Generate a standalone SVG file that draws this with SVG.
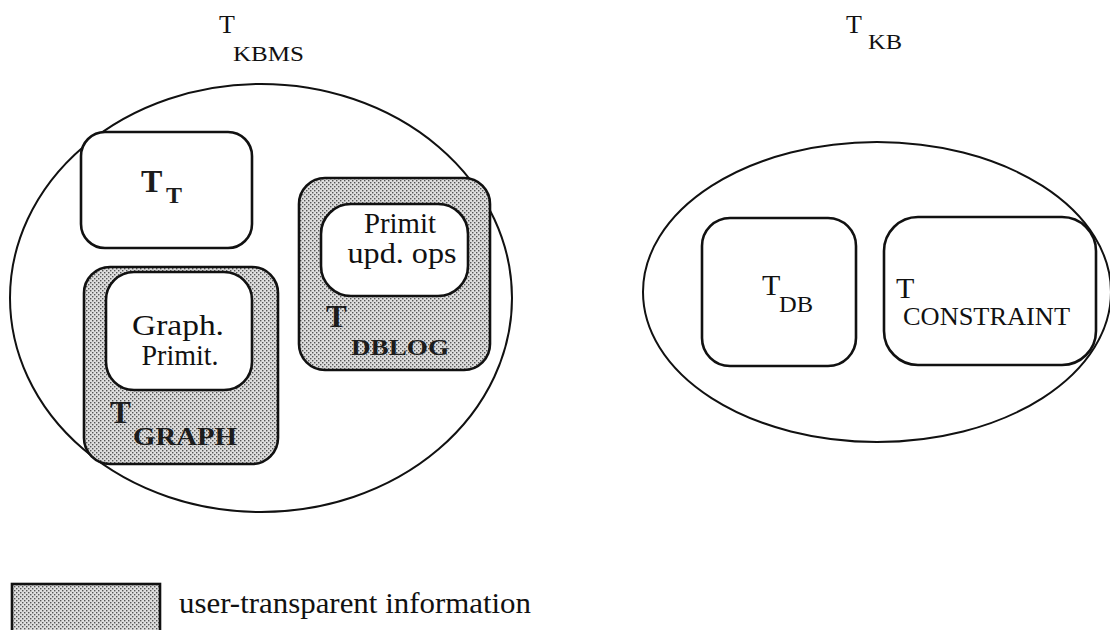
<svg xmlns="http://www.w3.org/2000/svg" width="1110" height="630" viewBox="0 0 1110 630">
  <style>
    .txt { font-family: "Liberation Serif", "Times New Roman", serif; fill: #111; }
    .bold { font-weight: bold; fill: #1c1c1c; }
    .region { fill: none; stroke: #111; stroke-width: 2; }
    .box { fill: #fff; stroke: #111; stroke-width: 2.6; }
    .shaded { fill: url(#dots); stroke: #111; stroke-width: 2.6; }
  </style>
  <defs>
    <!-- dithered gray fill for user-transparent parts -->
    <pattern id="dots" width="4" height="4" patternUnits="userSpaceOnUse">
      <rect width="4" height="4" fill="#dedede"/>
      <rect x="0" y="0" width="1.4" height="1.4" fill="#555"/>
      <rect x="2" y="2" width="1.4" height="1.4" fill="#555"/>
    </pattern>
  </defs>

  <rect width="1110" height="630" fill="#fff"/>

  <!-- KBMS theory -->
  <g id="kbms">
    <text class="txt" x="219" y="33" font-size="26">T</text>
    <text class="txt" x="233" y="61" font-size="21" textLength="71" lengthAdjust="spacingAndGlyphs">KBMS</text>
    <ellipse class="region" cx="261" cy="298" rx="251" ry="214"/>
  </g>

  <g id="t-t">
    <rect class="box" x="81" y="132" width="171" height="116" rx="24"/>
    <text class="txt bold" x="141" y="192" font-size="32">T</text>
    <text class="txt bold" x="166" y="203" font-size="24">T</text>
  </g>

  <g id="t-graph">
    <rect class="shaded" x="84" y="267" width="194" height="197" rx="26"/>
    <rect class="box" x="106" y="272" width="146" height="118" rx="28"/>
    <text class="txt" x="178" y="335" font-size="30" text-anchor="middle" textLength="92" lengthAdjust="spacingAndGlyphs">Graph.</text>
    <text class="txt" x="180" y="365" font-size="30" text-anchor="middle" textLength="77" lengthAdjust="spacingAndGlyphs">Primit.</text>
    <text class="txt bold" x="110" y="423" font-size="31">T</text>
    <text class="txt bold" x="133" y="445" font-size="25" textLength="104" lengthAdjust="spacingAndGlyphs">GRAPH</text>
  </g>

  <g id="t-dblog">
    <rect class="shaded" x="299" y="178" width="191" height="192" rx="26"/>
    <rect class="box" x="321" y="204" width="147" height="92" rx="30"/>
    <text class="txt" x="400" y="233" font-size="30" text-anchor="middle" textLength="72" lengthAdjust="spacingAndGlyphs">Primit</text>
    <text class="txt" x="402" y="263" font-size="30" text-anchor="middle" textLength="109" lengthAdjust="spacingAndGlyphs">upd. ops</text>
    <text class="txt bold" x="326" y="327" font-size="31">T</text>
    <text class="txt bold" x="351" y="355" font-size="24" textLength="98" lengthAdjust="spacingAndGlyphs">DBLOG</text>
  </g>

  <!-- KB theory -->
  <g id="kb">
    <text class="txt" x="846" y="33" font-size="26">T</text>
    <text class="txt" x="868" y="49" font-size="21" textLength="34" lengthAdjust="spacingAndGlyphs">KB</text>
    <ellipse class="region" cx="877" cy="292" rx="234" ry="150"/>
  </g>

  <g id="t-db">
    <rect class="box" x="702" y="218" width="154" height="148" rx="28"/>
    <text class="txt" x="762" y="295" font-size="30">T</text>
    <text class="txt" x="779" y="312" font-size="24" textLength="34" lengthAdjust="spacingAndGlyphs">DB</text>
  </g>

  <g id="t-constraint">
    <rect class="box" x="884" y="217" width="212" height="148" rx="34"/>
    <text class="txt" x="896" y="298" font-size="30">T</text>
    <text class="txt" x="903" y="325" font-size="25" textLength="167" lengthAdjust="spacingAndGlyphs">CONSTRAINT</text>
  </g>

  <!-- legend -->
  <g id="legend">
    <rect class="shaded" x="12" y="584" width="148" height="60" stroke-width="2"/>
    <text class="txt" x="179" y="613" font-size="30" textLength="352" lengthAdjust="spacingAndGlyphs">user-transparent information</text>
  </g>

  <g id="connectors"/>
</svg>
